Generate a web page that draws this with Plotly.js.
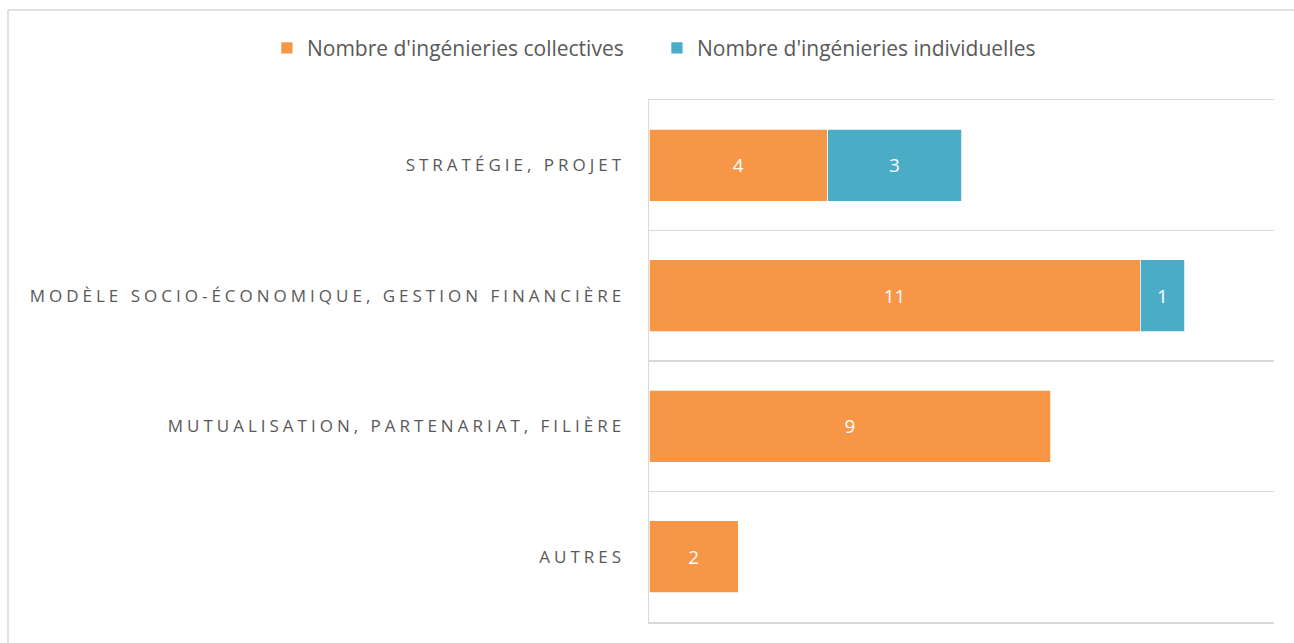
<!DOCTYPE html>
<html>
<head>
<meta charset="utf-8">
<script src="https://cdn.plot.ly/plotly-3.0.1.min.js"></script>
<style>
  html, body { margin: 0; padding: 0; background: #fff; }
  #chart { width: 1294px; height: 643px; }
  .ytick text { letter-spacing: 4px; }
</style>
</head>
<body>
<div id="chart"></div>
<script>
const categories = [
  "STRATÉGIE, PROJET",
  "MODÈLE SOCIO-ÉCONOMIQUE, GESTION FINANCIÈRE",
  "MUTUALISATION, PARTENARIAT, FILIÈRE",
  "AUTRES"
];
const collectives = [4, 11, 9, 2];
const individuelles = [3, 1, null, null];
const seriesNames = ["Nombre d'ingénieries collectives", "Nombre d'ingénieries individuelles"];

const orange = "#F79646";
const blue = "#4BACC6";
const grid = "#D9D9D9";
const textGrey = "#595959";

const traces = [
  {
    type: "bar", orientation: "h", name: seriesNames[0], legend: "legend",
    y: categories, x: collectives,
    marker: { color: orange, line: { color: "#ffffff", width: 0.75 } },
    text: collectives.map(v => v == null ? "" : String(v)),
    textposition: "inside", insidetextanchor: "middle",
    textfont: { color: "#ffffff", size: 19, family: "Open Sans" },
    hoverinfo: "x+name"
  },
  {
    type: "bar", orientation: "h", name: seriesNames[1], legend: "legend2",
    y: categories, x: individuelles,
    marker: { color: blue, line: { color: "#ffffff", width: 0.75 } },
    text: individuelles.map(v => v == null ? "" : String(v)),
    textposition: "inside", insidetextanchor: "middle",
    textfont: { color: "#ffffff", size: 19, family: "Open Sans" },
    hoverinfo: "x+name"
  }
];

const legendBase = {
  orientation: "h", xref: "container", yref: "container",
  xanchor: "left", y: 0.925, yanchor: "middle",
  font: { size: 21, color: textGrey, family: "Open Sans" },
  bgcolor: "rgba(0,0,0,0)"
};

const layout = {
  width: 1294, height: 643,
  margin: { l: 649, r: 20, t: 100, b: 21 },
  paper_bgcolor: "#ffffff", plot_bgcolor: "#ffffff",
  barmode: "stack", bargap: 0.45,
  font: { family: "Open Sans", color: textGrey },
  showlegend: true,
  legend: Object.assign({}, legendBase, { x: 0.2063 }),
  legend2: Object.assign({}, legendBase, { x: 0.5077 }),
  xaxis: {
    range: [0, 14], showgrid: false, zeroline: false, showticklabels: false,
    showline: true, mirror: true, linecolor: grid, linewidth: 1.5, fixedrange: true
  },
  yaxis: {
    autorange: "reversed", type: "category",
    showgrid: true, tickson: "boundaries", gridcolor: grid, gridwidth: 1.5,
    showline: true, linecolor: grid, linewidth: 1.5,
    ticks: "", ticklabelstandoff: 19,
    tickfont: { size: 17, color: textGrey, family: "Open Sans" },
    fixedrange: true
  },
  shapes: [
    { type: "line", xref: "paper", yref: "paper", x0: -1.0256, x1: 1.04, y0: 1.1724, y1: 1.1724,
      line: { color: grid, width: 1.5 } },
    { type: "line", xref: "paper", yref: "paper", x0: -1.0256, x1: -1.0256, y0: 1.1724, y1: -0.05,
      line: { color: grid, width: 1.5 } }
  ]
};

Plotly.newPlot("chart", traces, layout, { displayModeBar: false, staticPlot: true });
</script>
</body>
</html>
